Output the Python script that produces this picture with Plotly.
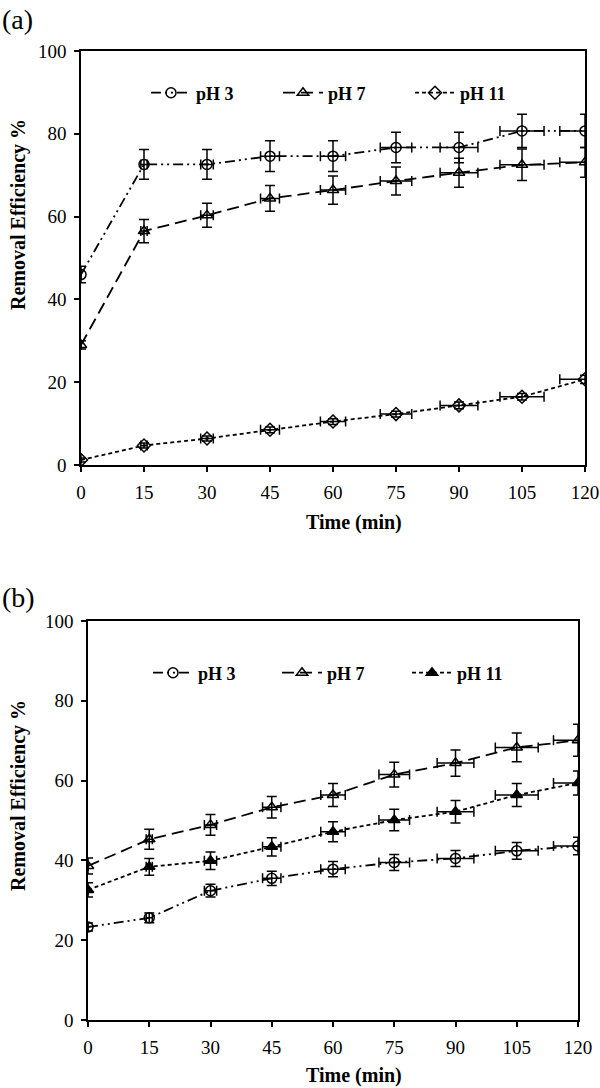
import plotly.graph_objects as go

# ---------------- data ----------------
time_min = [0, 15, 30, 45, 60, 75, 90, 105, 120]
time_err = [0, 0.75, 1.5, 2.25, 3, 3.75, 4.5, 5.25, 6]

# panel (a)
a_ph3 = [46.0, 72.6, 72.6, 74.6, 74.6, 76.7, 76.7, 80.7, 80.7]
a_ph3_err = [2.0, 3.6, 3.6, 3.7, 3.7, 3.7, 3.7, 4.0, 4.0]
a_ph7 = [29.0, 56.5, 60.3, 64.4, 66.4, 68.6, 70.6, 72.5, 73.1]
a_ph7_err = [1.0, 2.8, 2.9, 3.1, 3.4, 3.4, 3.5, 3.8, 3.6]
a_ph11 = [1.2, 4.7, 6.4, 8.5, 10.5, 12.3, 14.4, 16.5, 20.7]
a_ph11_err = [0.5, 0.6, 0.6, 0.7, 0.7, 0.7, 0.8, 0.8, 1.0]

# panel (b)
b_ph3 = [23.3, 25.6, 32.4, 35.5, 37.8, 39.5, 40.5, 42.4, 43.6]
b_ph3_err = [1.0, 1.2, 1.6, 1.8, 1.9, 2.0, 2.0, 2.1, 2.2]
b_ph7 = [38.6, 45.3, 48.9, 53.3, 56.4, 61.5, 64.4, 68.3, 70.1]
b_ph7_err = [2.0, 2.5, 2.6, 2.7, 2.9, 3.1, 3.3, 3.6, 4.0]
b_ph11 = [32.6, 38.4, 39.9, 43.4, 47.2, 50.1, 52.2, 56.4, 59.4]
b_ph11_err = [1.8, 2.1, 2.2, 2.3, 2.5, 2.7, 2.8, 2.9, 3.0]

series_names = ["pH 3", "pH 7", "pH 11"]
x_ticks = [0, 15, 30, 45, 60, 75, 90, 105, 120]
y_ticks = [0, 20, 40, 60, 80, 100]

FONT = "Liberation Serif, Times New Roman, serif"
DASH_DDOT = "10px,4px,2px,4px,2px,4px"
DASH_LONG = "12px,6px"
DASH_SHORT = "4px,3px"

W, H = 600, 1088
fig = go.Figure()


def add(y, yerr, name, symbol, dash, xa, ya, legend):
    fig.add_trace(go.Scatter(
        x=time_min, y=y, name=name, mode="lines+markers",
        xaxis=xa, yaxis=ya, legend=legend,
        line=dict(color="black", width=1.8, dash=dash),
        marker=dict(symbol=symbol, size=10, color="black",
                    line=dict(color="black", width=1.5)),
        error_y=dict(type="data", array=yerr, visible=True,
                     color="black", thickness=1.5, width=5),
        error_x=dict(type="data", array=time_err, visible=True,
                     color="black", thickness=1.5, width=5),
    ))


add(a_ph3, a_ph3_err, series_names[0], "circle-open", DASH_DDOT, "x", "y", "legend")
add(a_ph7, a_ph7_err, series_names[1], "triangle-up-open", DASH_LONG, "x", "y", "legend2")
add(a_ph11, a_ph11_err, series_names[2], "diamond-open", DASH_SHORT, "x", "y", "legend3")

add(b_ph3, b_ph3_err, series_names[0], "circle-open", DASH_DDOT, "x2", "y2", "legend4")
add(b_ph7, b_ph7_err, series_names[1], "triangle-up-open", DASH_LONG, "x2", "y2", "legend5")
add(b_ph11, b_ph11_err, series_names[2], "triangle-up", DASH_SHORT, "x2", "y2", "legend6")

axis_common = dict(
    showline=True, linecolor="black", linewidth=1.5, mirror=True,
    ticks="outside", ticklen=5, tickwidth=1.5, tickcolor="black",
    showgrid=False, zeroline=False, automargin=False,
    ticklabelstandoff=4,
    tickfont=dict(family=FONT, size=19, color="black"),
)


def leg(marker_x, center_y):
    return dict(
        orientation="h", bgcolor="rgba(0,0,0,0)", borderwidth=0,
        font=dict(family=FONT, size=18, color="black", weight="bold"),
        itemwidth=40,
        x=(marker_x - 20) / W, y=1 - center_y / H,
        xanchor="left", yanchor="middle",
    )


fig.update_layout(
    template="none",
    width=W, height=H,
    margin=dict(l=0, r=0, t=0, b=0, autoexpand=False),
    paper_bgcolor="white", plot_bgcolor="white",
    xaxis=dict(domain=[81 / W, 585 / W], anchor="y", range=[0, 120],
               tickvals=x_ticks, **axis_common),
    yaxis=dict(domain=[1 - 465 / H, 1 - 51 / H], anchor="x", range=[0, 100],
               tickvals=y_ticks, **axis_common),
    xaxis2=dict(domain=[88 / W, 578 / W], anchor="y2", range=[0, 120],
                tickvals=x_ticks, **axis_common),
    yaxis2=dict(domain=[1 - 1020 / H, 1 - 621 / H], anchor="x2", range=[0, 100],
                tickvals=y_ticks, **axis_common),
    legend=leg(166, 93),
    legend2=leg(298, 93),
    legend3=leg(430, 93),
    legend4=leg(168, 673),
    legend5=leg(297, 673),
    legend6=leg(427, 673),
    showlegend=True,
)

title_font = dict(family=FONT, size=20, color="black", weight="bold")
ann = [
    dict(text="(a)", x=0, y=1 - 2 / H, xanchor="left", yanchor="top",
         font=dict(family=FONT, size=28, color="black")),
    dict(text="(b)", x=0, y=1 - 580 / H, xanchor="left", yanchor="top",
         font=dict(family=FONT, size=28, color="black")),
    dict(text="Removal Efficiency %", x=18 / W, y=1 - 215 / H, textangle=-90,
         xanchor="center", yanchor="middle", font=title_font),
    dict(text="Removal Efficiency %", x=18 / W, y=1 - 796 / H, textangle=-90,
         xanchor="center", yanchor="middle", font=title_font),
    dict(text="Time (min)", x=354 / W, y=1 - 522 / H,
         xanchor="center", yanchor="middle", font=title_font),
    dict(text="Time (min)", x=354 / W, y=1 - 1075 / H,
         xanchor="center", yanchor="middle", font=title_font),
]
for a in ann:
    a.update(xref="paper", yref="paper", showarrow=False)
fig.update_layout(annotations=ann)

fig.write_html(
    "out.html",
    config={"displayModeBar": False},
    post_script="document.body.style.margin='0';document.body.style.overflow='hidden';",
)
